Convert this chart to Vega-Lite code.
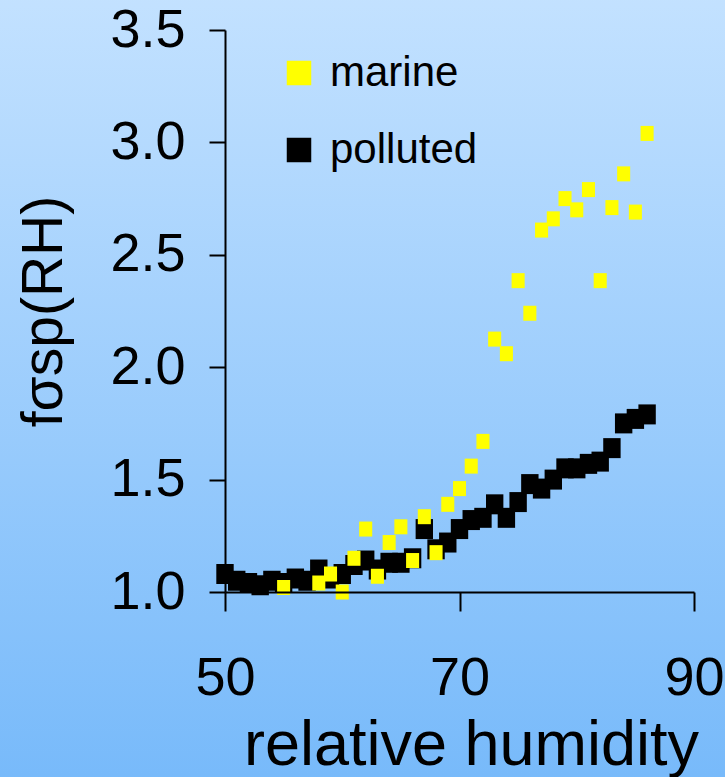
{
  "$schema": "https://vega.github.io/schema/vega-lite/v6.json",
  "width": 469,
  "height": 562,
  "autosize": {"type": "none"},
  "padding": {"left": 225, "top": 30, "right": 31, "bottom": 185},
  "background": "#a0ceff",
  "config": {
    "view": {"stroke": null}
  },
  "data": {
    "values": [
      {"type": "polluted", "rh": 50, "f": 1.08},
      {"type": "polluted", "rh": 51, "f": 1.05},
      {"type": "polluted", "rh": 52, "f": 1.04},
      {"type": "polluted", "rh": 53, "f": 1.03},
      {"type": "polluted", "rh": 54, "f": 1.05},
      {"type": "polluted", "rh": 55, "f": 1.04},
      {"type": "polluted", "rh": 56, "f": 1.06},
      {"type": "polluted", "rh": 57, "f": 1.05},
      {"type": "polluted", "rh": 58, "f": 1.10},
      {"type": "polluted", "rh": 59, "f": 1.06},
      {"type": "polluted", "rh": 60, "f": 1.08},
      {"type": "polluted", "rh": 61, "f": 1.12},
      {"type": "polluted", "rh": 62, "f": 1.14},
      {"type": "polluted", "rh": 63, "f": 1.10},
      {"type": "polluted", "rh": 64, "f": 1.13},
      {"type": "polluted", "rh": 65, "f": 1.13},
      {"type": "polluted", "rh": 66, "f": 1.15},
      {"type": "polluted", "rh": 67, "f": 1.28},
      {"type": "polluted", "rh": 68, "f": 1.19},
      {"type": "polluted", "rh": 69, "f": 1.22},
      {"type": "polluted", "rh": 70, "f": 1.28},
      {"type": "polluted", "rh": 71, "f": 1.32},
      {"type": "polluted", "rh": 72, "f": 1.33},
      {"type": "polluted", "rh": 73, "f": 1.39},
      {"type": "polluted", "rh": 74, "f": 1.33},
      {"type": "polluted", "rh": 75, "f": 1.40},
      {"type": "polluted", "rh": 76, "f": 1.48},
      {"type": "polluted", "rh": 77, "f": 1.46},
      {"type": "polluted", "rh": 78, "f": 1.50},
      {"type": "polluted", "rh": 79, "f": 1.55},
      {"type": "polluted", "rh": 80, "f": 1.55},
      {"type": "polluted", "rh": 81, "f": 1.57},
      {"type": "polluted", "rh": 82, "f": 1.58},
      {"type": "polluted", "rh": 83, "f": 1.64},
      {"type": "polluted", "rh": 84, "f": 1.75},
      {"type": "polluted", "rh": 85, "f": 1.77},
      {"type": "polluted", "rh": 86, "f": 1.79},
      {"type": "marine", "rh": 55, "f": 1.02},
      {"type": "marine", "rh": 58, "f": 1.04},
      {"type": "marine", "rh": 59, "f": 1.08},
      {"type": "marine", "rh": 60, "f": 1.00},
      {"type": "marine", "rh": 61, "f": 1.15},
      {"type": "marine", "rh": 62, "f": 1.28},
      {"type": "marine", "rh": 63, "f": 1.07},
      {"type": "marine", "rh": 64, "f": 1.22},
      {"type": "marine", "rh": 65, "f": 1.29},
      {"type": "marine", "rh": 66, "f": 1.14},
      {"type": "marine", "rh": 67, "f": 1.335},
      {"type": "marine", "rh": 68, "f": 1.175},
      {"type": "marine", "rh": 69, "f": 1.39},
      {"type": "marine", "rh": 70, "f": 1.46},
      {"type": "marine", "rh": 71, "f": 1.56},
      {"type": "marine", "rh": 72, "f": 1.67},
      {"type": "marine", "rh": 73, "f": 2.125},
      {"type": "marine", "rh": 74, "f": 2.06},
      {"type": "marine", "rh": 75, "f": 2.385},
      {"type": "marine", "rh": 76, "f": 2.24},
      {"type": "marine", "rh": 77, "f": 2.61},
      {"type": "marine", "rh": 78, "f": 2.66},
      {"type": "marine", "rh": 79, "f": 2.75},
      {"type": "marine", "rh": 80, "f": 2.70},
      {"type": "marine", "rh": 81, "f": 2.79},
      {"type": "marine", "rh": 82, "f": 2.385},
      {"type": "marine", "rh": 83, "f": 2.71},
      {"type": "marine", "rh": 84, "f": 2.86},
      {"type": "marine", "rh": 85, "f": 2.69},
      {"type": "marine", "rh": 86, "f": 3.04}
    ]
  },
  "layer": [
    {
      "data": {"values": [{"bg": "gradient"}]},
      "mark": {
        "type": "rect",
        "clip": false,
        "fill": {
          "gradient": "linear",
          "x1": 0, "y1": 0, "x2": 0, "y2": 1,
          "stops": [
            {"offset": 0, "color": "#c4e2ff"},
            {"offset": 1, "color": "#76b9fa"}
          ]
        }
      },
      "encoding": {
        "x": {"datum": 25, "type": "quantitative"},
        "x2": {"datum": 95},
        "y": {"datum": 3.7, "type": "quantitative"},
        "y2": {"datum": 0.1}
      }
    },
    {
      "transform": [{"filter": "datum.type === 'polluted'"}],
      "mark": {
        "type": "point",
        "filled": true,
        "opacity": 1,
        "strokeWidth": 0,
        "size": 400,
        "shape": "M-0.87,-1H0.87V1H-0.87Z"
      },
      "encoding": {
        "x": {
          "field": "rh",
          "type": "quantitative",
          "scale": {"domain": [50, 90], "nice": false, "zero": false},
          "axis": {
            "values": [50, 70, 90],
            "grid": false,
            "zindex": 1,
            "domainColor": "#000000",
            "domainWidth": 2,
            "tickColor": "#000000",
            "tickWidth": 2,
            "tickSize": 19,
            "labelFont": "Liberation Sans",
            "labelFontSize": 54,
            "labelColor": "#000000",
            "labelPadding": 40,
            "labelFlush": false,
            "labelOverlap": false,
            "title": "relative humidity",
            "titleFont": "Liberation Sans",
            "titleFontSize": 63,
            "titleFontWeight": "normal",
            "titleColor": "#000000",
            "titleX": 246,
            "titleY": 172,
            "titleAlign": "center",
            "titleBaseline": "alphabetic"
          }
        },
        "y": {
          "field": "f",
          "type": "quantitative",
          "scale": {"domain": [1, 3.5], "nice": false, "zero": false},
          "axis": {
            "values": [1, 1.5, 2, 2.5, 3, 3.5],
            "format": ".1f",
            "grid": false,
            "zindex": 1,
            "domainColor": "#000000",
            "domainWidth": 2,
            "tickColor": "#000000",
            "tickWidth": 2,
            "tickSize": 16,
            "labelFont": "Liberation Sans",
            "labelFontSize": 54,
            "labelColor": "#000000",
            "labelPadding": 24,
            "labelFlush": false,
            "labelOverlap": false,
            "title": "fσsp(RH)",
            "titleFont": "Liberation Sans",
            "titleFontSize": 57,
            "titleFontWeight": "normal",
            "titleColor": "#000000",
            "titleX": -164,
            "titleY": 281,
            "titleAngle": 270,
            "titleAlign": "center",
            "titleBaseline": "alphabetic"
          }
        },
        "color": {
          "field": "type",
          "type": "nominal",
          "scale": {"domain": ["marine", "polluted"], "range": ["#ffff00", "#000000"]},
          "legend": {
            "orient": "none",
            "legendX": 53,
            "legendY": 22,
            "title": null,
            "padding": 0,
            "symbolType": "square",
            "symbolSize": 600,
            "symbolStrokeWidth": 0,
            "symbolOpacity": 1,
            "labelFont": "Liberation Sans",
            "labelFontSize": 42,
            "labelColor": "#000000",
            "labelOffset": 10,
            "labelLimit": 0,
            "rowPadding": 35
          }
        }
      }
    },
    {
      "transform": [{"filter": "datum.type === 'marine'"}],
      "mark": {
        "type": "point",
        "filled": true,
        "opacity": 1,
        "strokeWidth": 0,
        "size": 225,
        "shape": "M-0.87,-1H0.87V1H-0.87Z"
      },
      "encoding": {
        "x": {"field": "rh", "type": "quantitative"},
        "y": {"field": "f", "type": "quantitative"},
        "color": {"field": "type", "type": "nominal"}
      }
    }
  ]
}
